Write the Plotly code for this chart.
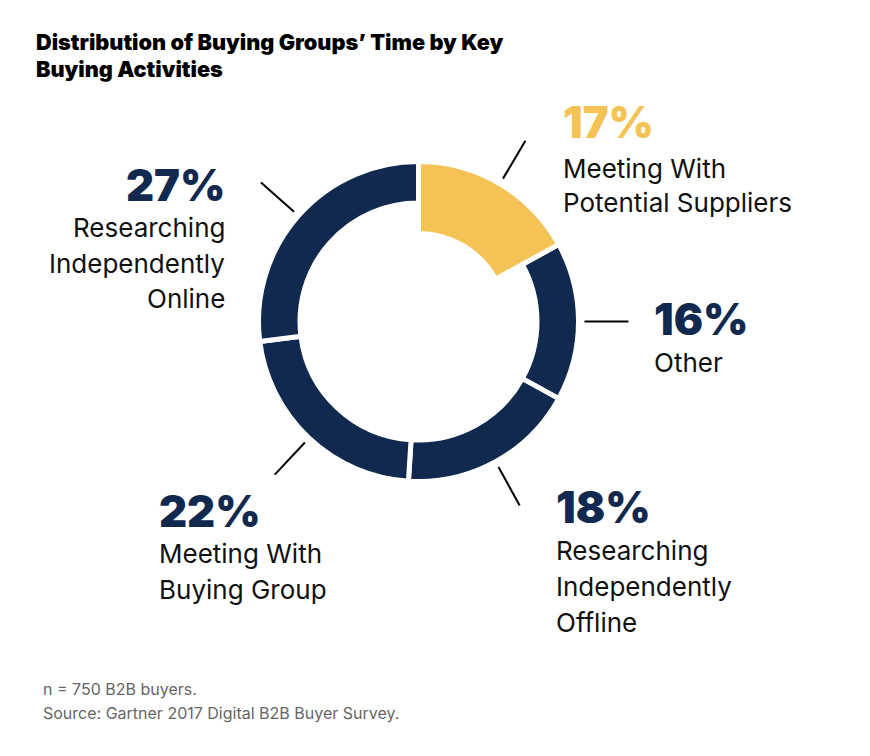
import math
import plotly.graph_objects as go

# ---------------- data ----------------
categories = ["Meeting With Potential Suppliers", "Other",
              "Researching Independently Offline", "Meeting With Buying Group",
              "Researching Independently Online"]
shares = [17, 16, 18, 22, 27]
pct_labels = ["17%", "16%", "18%", "22%", "27%"]
label_lines = [["Meeting With", "Potential Suppliers"],
               ["Other"],
               ["Researching", "Independently", "Offline"],
               ["Meeting With", "Buying Group"],
               ["Researching", "Independently", "Online"]]
title_lines = ["Distribution of Buying Groups’ Time by Key", "Buying Activities"]
note_lines = ["n = 750 B2B buyers.", "Source: Gartner 2017 Digital B2B Buyer Survey."]

# ---------------- style / layout ----------------
W, H = 870, 756
OFF = 8  # page body margin
NAVY = "#11294f"
YELLOW = "#f5c355"
colors = [YELLOW, NAVY, NAVY, NAVY, NAVY]
highlight = [True, False, False, False, False]
GAP = 5
CX, CY = 418.5, 321.5
R = 157.5 + GAP / 2
HOLE = (121.0 - GAP / 2) / R
HOLE_HL = (90.5 - GAP / 2) / R

# text placement (pixel): anchor x, align, baseline of percent, baselines of lines
placements = [
    dict(x=562, align="left", pct=137.5, lines=[177.5, 212]),
    dict(x=653, align="left", pct=335, lines=[371.5]),
    dict(x=555, align="left", pct=522.5, lines=[560, 596, 632]),
    dict(x=158, align="left", pct=526.5, lines=[563, 598.5]),
    dict(x=226, align="right", pct=200.5, lines=[237, 273, 308]),
]
PCT_SIZE = 43.5
LBL_SIZE = 26
FONT = "Inter"


def px(x, y):
    return (x - OFF) / W, 1 - (y - OFF) / H


fig = go.Figure()
dom = dict(x=[(CX - OFF - R) / W, (CX - OFF + R) / W],
           y=[1 - (CY - OFF + R) / H, 1 - (CY - OFF - R) / H])

fig.add_trace(go.Pie(
    labels=categories, values=shares, hole=HOLE, sort=False, direction="clockwise",
    rotation=0, textinfo="none", hoverinfo="label+percent", showlegend=False,
    marker=dict(colors=colors, line=dict(color="white", width=GAP)), domain=dom))
fig.add_trace(go.Pie(
    labels=categories, values=shares, hole=HOLE_HL, sort=False, direction="clockwise",
    rotation=0, textinfo="none", hoverinfo="skip", showlegend=False,
    marker=dict(colors=[c if h else "rgba(0,0,0,0)" for c, h in zip(colors, highlight)],
                line=dict(color="white", width=[GAP if h else 0 for h in highlight])),
    domain=dom))

shapes = []
annotations = []


def text_at(x, baseline, text, size, color, weight=400, align="left", family=FONT):
    xx, yy = px(x, baseline - 0.36 * size)
    annotations.append(dict(x=xx, y=yy, xref="paper", yref="paper", text=text,
                            showarrow=False, xanchor=align, yanchor="middle",
                            borderpad=0,
                            font=dict(family=family, size=size, color=color, weight=weight)))


cum = 0
for i, v in enumerate(shares):
    mid = (cum + v / 2) / sum(shares) * 2 * math.pi
    cum += v
    r1, r2 = 166, 210
    x0, y0 = px(CX + r1 * math.sin(mid), CY - r1 * math.cos(mid))
    x1, y1 = px(CX + r2 * math.sin(mid), CY - r2 * math.cos(mid))
    shapes.append(dict(type="line", xref="paper", yref="paper", x0=x0, y0=y0, x1=x1, y1=y1,
                       line=dict(color="black", width=2)))
    p = placements[i]
    text_at(p["x"], p["pct"], pct_labels[i], PCT_SIZE, colors[i], weight=900, align=p["align"])
    for ln, b in zip(label_lines[i], p["lines"]):
        text_at(p["x"], b, ln, LBL_SIZE, "#111111", weight=400, align=p["align"])

for ln, b in zip(title_lines, [49.5, 76.5]):
    text_at(35, b, ln, 21.7, "#000000", weight=900)
for ln, b in zip(note_lines, [695, 719]):
    text_at(42, b, ln, 16, "#666666", weight=400)

fig.update_layout(width=W, height=H, margin=dict(l=0, r=0, t=0, b=0),
                  paper_bgcolor="white", plot_bgcolor="white",
                  shapes=shapes, annotations=annotations)
fig.write_html("out.html")
